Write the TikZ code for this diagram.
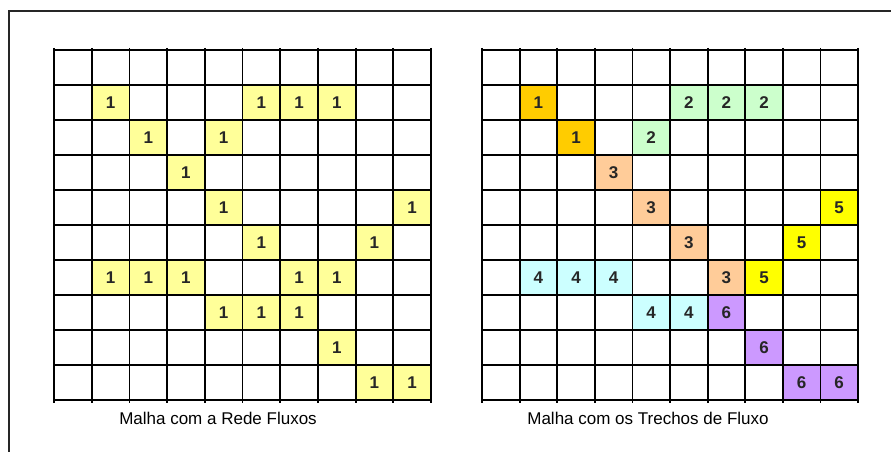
\documentclass[tikz,border=0pt]{standalone}
\usepackage{fontspec}
\setmainfont{Liberation Sans}
\usepackage{xcolor}
\definecolor{fluxyellow}{HTML}{FFFF99}
\definecolor{fluxorange}{HTML}{FFCC00}
\definecolor{fluxgreen}{HTML}{CCFFCC}
\definecolor{fluxpeach}{HTML}{FFCC99}
\definecolor{fluxcyan}{HTML}{CCFFFF}
\definecolor{fluxgold}{HTML}{FFFF00}
\definecolor{fluxpurple}{HTML}{CC99FF}
\usetikzlibrary{positioning}

\begin{document}
\begin{tikzpicture}[x=1pt, y=-1pt,
  every node/.style={font=\fontsize{17}{19}\selectfont},
  cell/.style={minimum width=37.7pt, minimum height=35pt, inner sep=0pt,
               font=\fontsize{17}{17}\selectfont\bfseries, text=black!85},
  gridline/.style={draw=black, line width=1.8pt},
  frame/.style={draw=black!85, line width=1.8pt}
]
\useasboundingbox (0,0) rectangle (891,452);

%% Outer frame (open at right and bottom)
\draw[frame] (9,452) -- (9,11) -- (891,11);

%% Left mesh: flow network
\foreach \r/\c in {2/2,2/6,2/7,2/8,3/3,3/5,4/4,5/5,5/10,6/6,6/9,
                   7/2,7/3,7/4,7/7,7/8,8/5,8/6,8/7,9/8,10/9,10/10}
  \node[cell, fill=fluxyellow] (L-\r-\c) at ({54+(\c-0.5)*37.7},{50+(\r-0.5)*35}) {1};

%% Right mesh: flow stretches
\foreach \r/\c/\n/\col in {2/2/1/fluxorange,3/3/1/fluxorange,
                           2/6/2/fluxgreen,2/7/2/fluxgreen,2/8/2/fluxgreen,3/5/2/fluxgreen,
                           4/4/3/fluxpeach,5/5/3/fluxpeach,6/6/3/fluxpeach,7/7/3/fluxpeach,
                           7/2/4/fluxcyan,7/3/4/fluxcyan,7/4/4/fluxcyan,8/5/4/fluxcyan,8/6/4/fluxcyan,
                           5/10/5/fluxgold,6/9/5/fluxgold,7/8/5/fluxgold,
                           8/7/6/fluxpurple,9/8/6/fluxpurple,10/9/6/fluxpurple,10/10/6/fluxpurple}
  \node[cell, fill=\col] (R-\r-\c) at ({482+(\c-0.5)*37.6},{50+(\r-0.5)*35}) {\n};

%% Grid lines
\foreach \xs/\w in {54/37.7,482/37.6} {
  \foreach \i in {0,...,10} {
    \draw[gridline] ({\xs+\i*\w},48) -- ({\xs+\i*\w},403);
    \draw[gridline] (\xs,{50+\i*35}) -- ({\xs+10*\w},{50+\i*35});
  }
}

%% Captions
\node (capL) at (218,418) {Malha com a Rede Fluxos};
\node (capR) at (648,418) {Malha com os Trechos de Fluxo};

\end{tikzpicture}
\end{document}
